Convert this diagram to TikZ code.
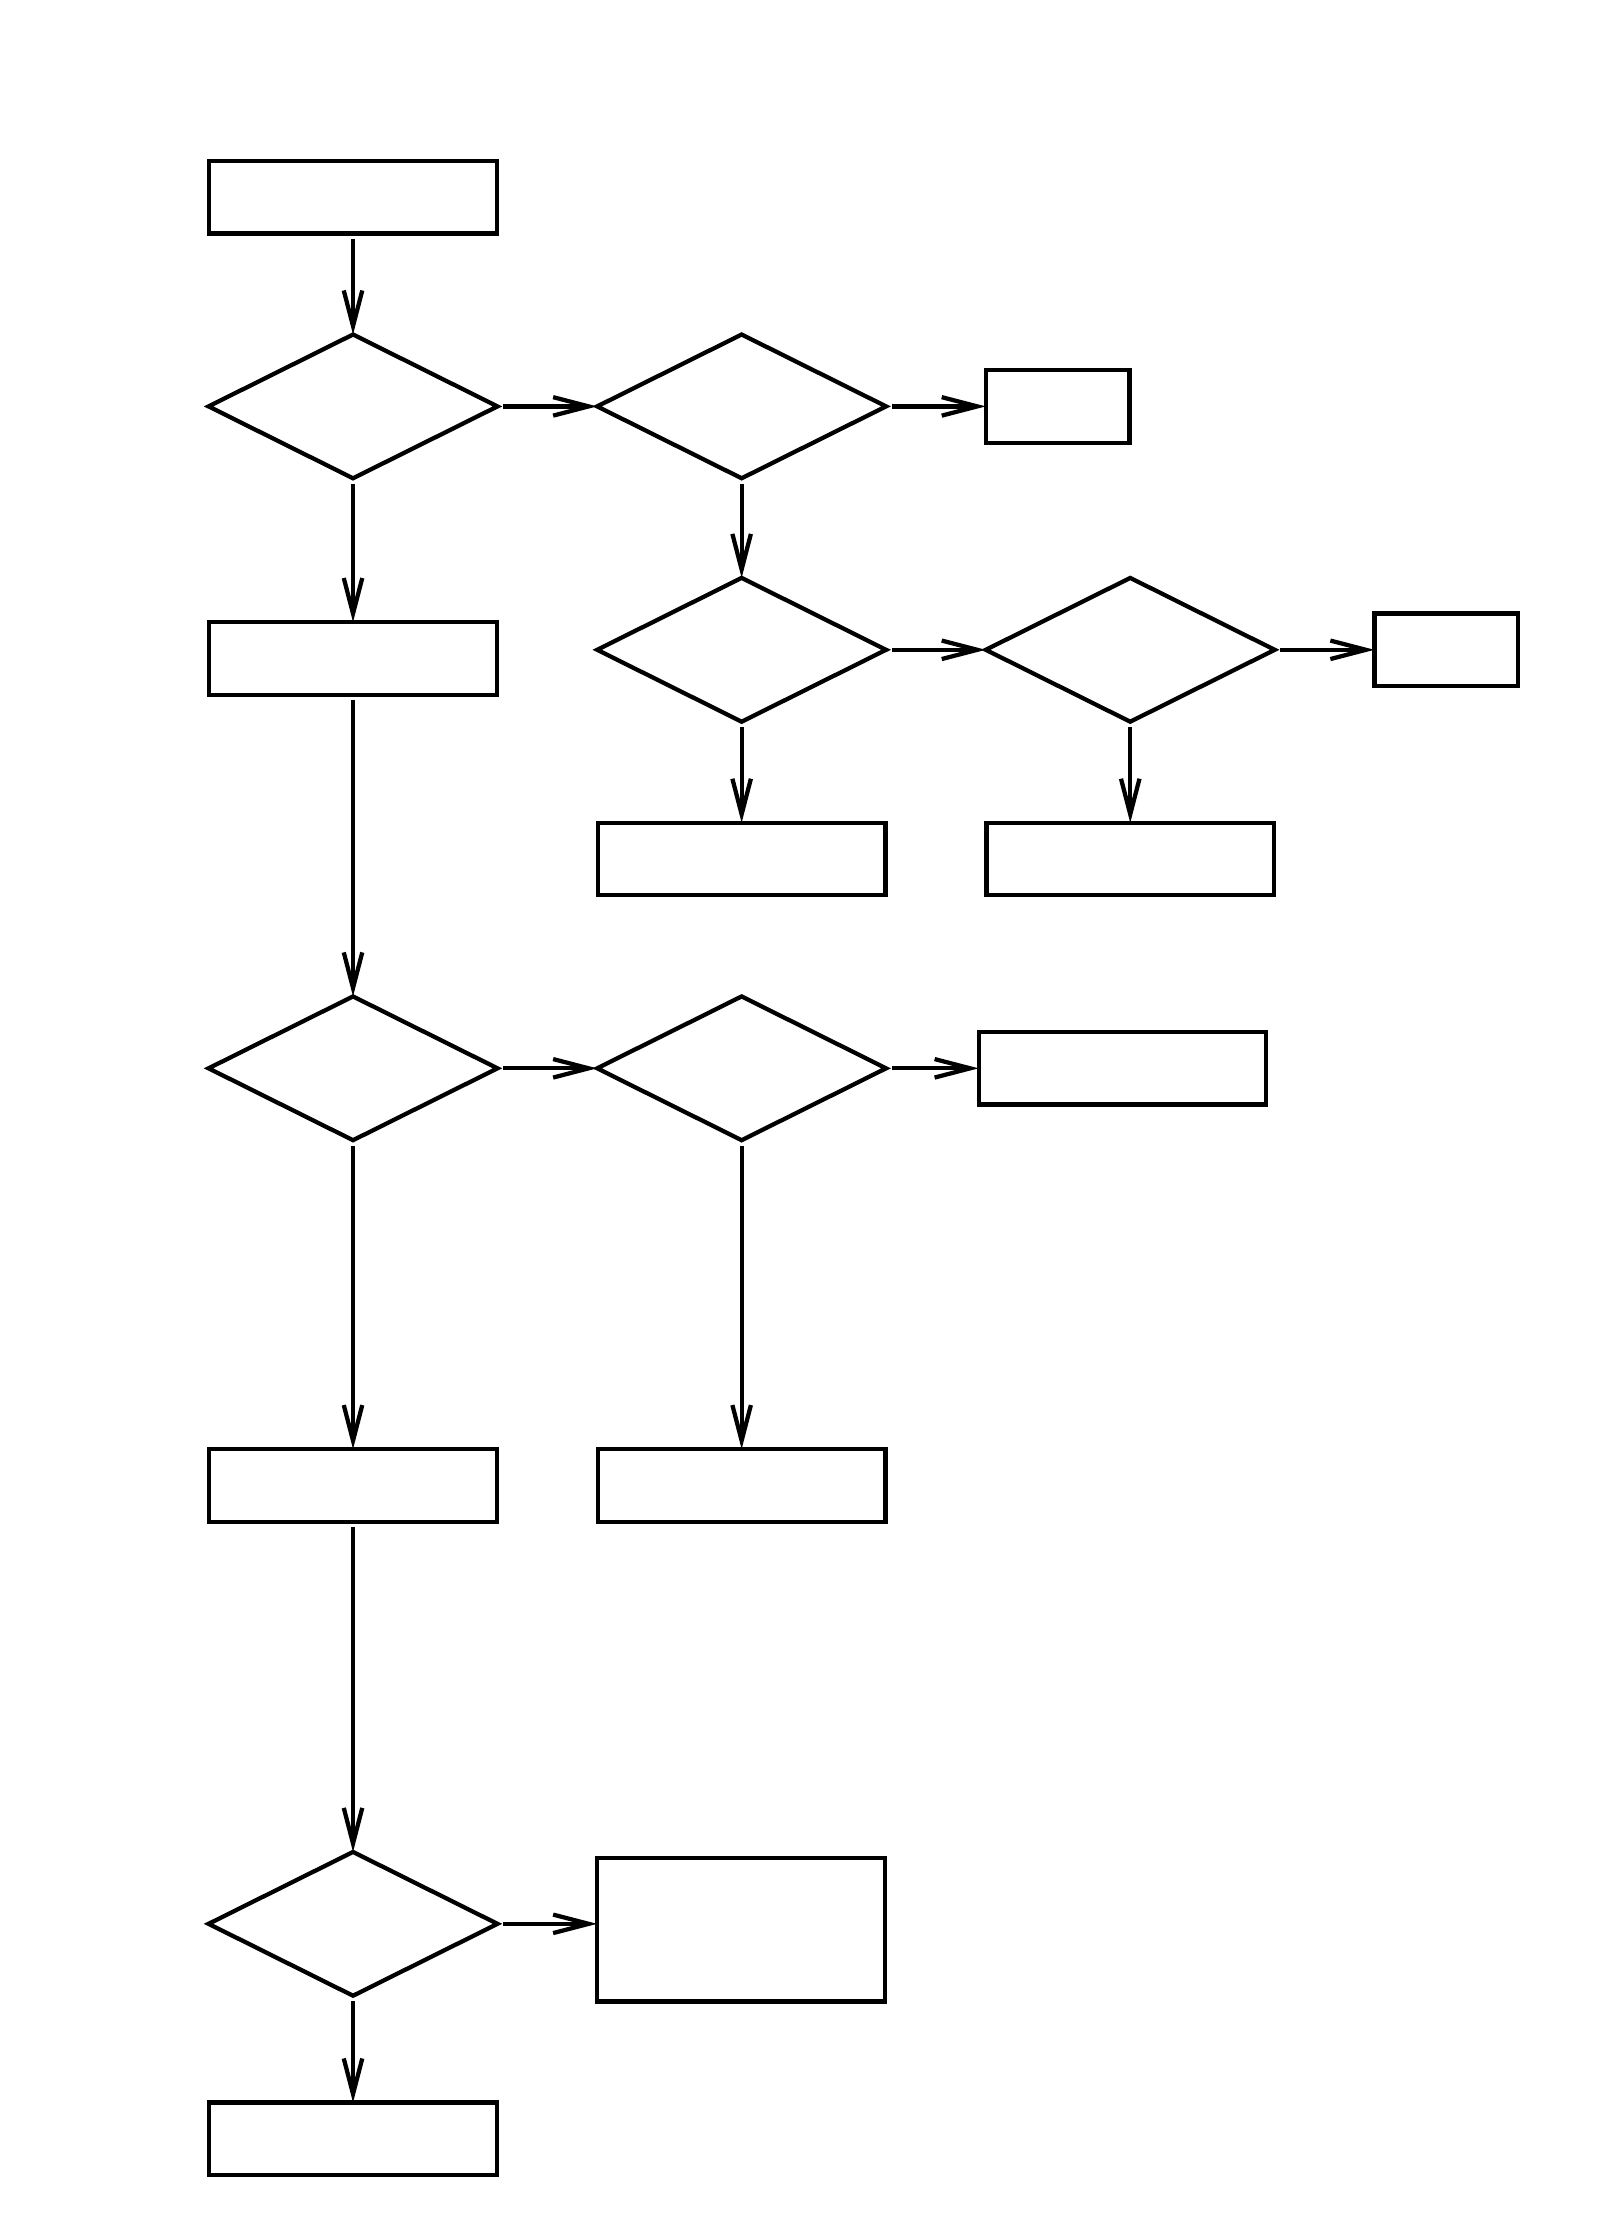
\documentclass[tikz,border=0pt]{standalone}
\usepackage{tikz}
\usetikzlibrary{arrows.meta,positioning,shapes.geometric}

\begin{document}
\begin{tikzpicture}[
    node distance=1.4cm and 1.4cm,
    box/.style={draw, line width=1.7pt, minimum width=4.04cm, minimum height=1.02cm, inner sep=0pt, outer sep=0pt},
    smallbox/.style={box, minimum width=2.02cm},
    tallbox/.style={box, minimum height=2.02cm},
    decision/.style={draw, diamond, line width=1.7pt, minimum width=4.06cm, minimum height=2.02cm, inner sep=0pt, outer sep=0pt},
    arrow/.style={-{Straight Barb[length=5mm, width=2.6mm]}, line width=1.7pt, shorten <=0.8mm}
]
\useasboundingbox (0,0) rectangle (22.46,-31.36);

\node[box] (start) at (4.96,-2.77) {};
\node[decision, below=1.42cm of start] (checka) {};
\node[decision, right=of checka] (checkb) {};
\node[smallbox, right=of checkb] (endb) {};
\node[box, below=2.02cm of checka] (stepa) {};

\node[decision, below=of checkb] (checkc) {};
\node[decision, right=of checkc] (checkd) {};
\node[smallbox, right=of checkd] (endd) {};
\node[box, below=1.42cm of checkc] (resc) {};
\node[box, below=1.42cm of checkd] (resd) {};

\node[decision, below=4.24cm of stepa] (checke) {};
\node[decision, right=of checke] (checkf) {};
\node[box, right=1.3cm of checkf] (endf) {};
\node[box, below=4.34cm of checke] (stepe) {};
\node[box, below=4.34cm of checkf] (resf) {};

\node[decision, below=4.64cm of stepe] (checkg) {};
\node[tallbox, right=of checkg, yshift=-0.08cm] (endg) {};
\node[box, below=1.5cm of checkg] (final) {};

\draw[arrow] (start) -- (checka);
\draw[arrow] (checka) -- (checkb);
\draw[arrow] (checkb) -- (endb);
\draw[arrow] (checka) -- (stepa);
\draw[arrow] (checkb) -- (checkc);
\draw[arrow] (checkc) -- (checkd);
\draw[arrow] (checkd) -- (endd);
\draw[arrow] (checkc) -- (resc);
\draw[arrow] (checkd) -- (resd);
\draw[arrow] (stepa) -- (checke);
\draw[arrow] (checke) -- (checkf);
\draw[arrow] (checkf) -- (endf);
\draw[arrow] (checke) -- (stepe);
\draw[arrow] (checkf) -- (resf);
\draw[arrow] (stepe) -- (checkg);
\draw[arrow] (checkg.east) -- (checkg.east -| endg.west);
\draw[arrow] (checkg) -- (final);
\end{tikzpicture}
\end{document}
